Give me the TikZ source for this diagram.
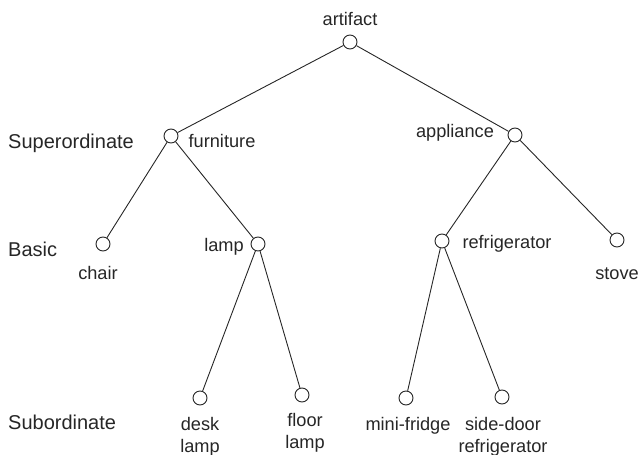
\documentclass[tikz,border=0pt]{standalone}
\usepackage{fontspec}
\setmainfont{Liberation Sans}
\begin{document}
\begin{tikzpicture}[x=1pt,y=-1pt,
  vert/.style={circle,draw=black!85,line width=0.9pt,minimum size=14pt,inner sep=0pt,fill=white},
  lbl/.style={anchor=base,inner sep=0pt,text=black!85,font=\fontsize{18.2}{22}\selectfont,align=center},
  lvl/.style={anchor=base west,inner sep=0pt,text=black!85,font=\fontsize{20}{24}\selectfont},
  edge/.style={draw=black!85,line width=0.9pt}]
\useasboundingbox (0,0) rectangle (640,455);
% vertices
\node[vert] (art) at (350,42) {};
\node[vert] (fur) at (171,136) {};
\node[vert] (app) at (515,135) {};
\node[vert] (cha) at (103,244) {};
\node[vert] (lam) at (258,244) {};
\node[vert] (ref) at (442,241) {};
\node[vert] (sto) at (617,240) {};
\node[vert] (dsk) at (200,398) {};
\node[vert] (flr) at (302,395) {};
\node[vert] (min) at (406,398) {};
\node[vert] (sid) at (502,397) {};
% edges
\draw[edge] (art) -- (fur);
\draw[edge] (art) -- (app);
\draw[edge] (fur) -- (cha);
\draw[edge] (fur) -- (lam);
\draw[edge] (app) -- (ref);
\draw[edge] (app) -- (sto);
\draw[edge] (lam) -- (dsk);
\draw[edge] (lam) -- (flr);
\draw[edge] (ref) -- (min);
\draw[edge] (ref) -- (sid);
% labels
\node[lbl] (tart) at (350,25) {artifact};
\node[lbl] (tfur) at (222,147) {furniture};
\node[lbl] (tapp) at (455,137) {appliance};
\node[lbl] (tcha) at (98,279) {chair};
\node[lbl] (tlam) at (224,251) {lamp};
\node[lbl] (tref) at (507,248) {refrigerator};
\node[lbl] (tsto) at (617,279) {stove};
\node[lbl] (tdsk) at (200,452) {desk\\lamp};
\node[lbl] (tflr) at (305,448) {floor\\lamp};
\node[lbl] (tmin) at (408,430) {mini-fridge};
\node[lbl] (tsid) at (503,452) {side-door\\refrigerator};
% level names
\node[lvl] (lsup) at (8,148) {Superordinate};
\node[lvl] (lbas) at (8,256) {Basic};
\node[lvl] (lsub) at (8,429) {Subordinate};
\end{tikzpicture}
\end{document}
